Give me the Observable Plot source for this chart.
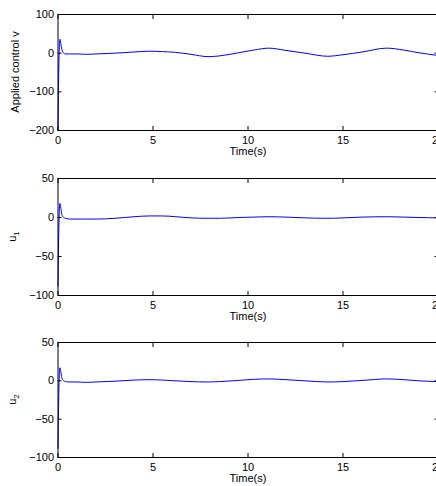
<!DOCTYPE html>
<html>
<head>
<meta charset="utf-8">
<script src="https://cdn.jsdelivr.net/npm/d3@7"></script>
<script src="https://cdn.jsdelivr.net/npm/@observablehq/plot@0.6"></script>
<style>
  html, body { margin: 0; padding: 0; background: #fff; }
  body { width: 436px; height: 486px; overflow: hidden; position: relative; }
  .panel { position: absolute; left: 0; width: 460px; }
  .panel svg { display: block; max-width: none !important; width: 460px; }
</style>
</head>
<body>
<div id="p1" class="panel"></div>
<div id="p2" class="panel"></div>
<div id="p3" class="panel"></div>
<script>
// Time samples (s)
const time = [0, 0.05, 0.1, 0.15, 0.2, 0.3, 0.4, 0.6, 1, 1.5, 2, 3, 4, 4.8, 5.5, 6.2, 7, 7.9, 8.5, 9.5, 10.3, 11.1, 12, 13, 14.2, 15, 16, 17.3, 18.2, 19, 20];
// Applied control v
const controlV = [-200, -20, 36, 25, 10, 0, -2, -2, -2, -3, -2, 0, 3, 5, 4, 2, -3, -9, -7, 1, 8, 13, 7, 0, -8, -4, 3, 13, 8, 1, -6];
// u1
const u1 = [-88, -8, 18, 12, 4, 0, -1, -2, -2, -2, -2, -1, 1, 2, 2, 1, -0.5, -1, -1, 0, 0.5, 1, 0.5, -0.5, -1, -0.5, 0.5, 1, 0.5, 0, -0.5];
// u2
const u2 = [-88, -8, 17, 12, 4, 0, -1, -1.5, -1.5, -2, -1.5, -0.5, 1, 1.5, 1, 0, -1, -1.5, -1, 0.5, 2, 2.5, 1.5, 0, -1.5, -1, 0.5, 2.5, 1.5, 0, -1];

const xTicks = [0, 5, 10, 15, 20];
const yTicks1 = [-200, -100, 0, 100];
const yTicks23 = [-100, -50, 0, 50];
const xLabel = "Time(s)";

const FONT = "'Liberation Sans', Arial, Helvetica, sans-serif";

function panel(el, top, innerH, values, yDomain, yTicks, labelMain, labelSub, labelX) {
  const data = time.map((t, i) => ({t, v: values[i]}));
  const mt = 10, mb = 30;
  const chart = Plot.plot({
    width: 460,
    height: mt + innerH + mb,
    marginLeft: 57.5,
    marginRight: 22.5,
    marginTop: mt,
    marginBottom: mb,
    style: {fontFamily: FONT, fontSize: "11px", background: "transparent", color: "#000", maxWidth: "none"},
    x: {domain: [0, 20]},
    y: {domain: yDomain},
    marks: [
      Plot.line(data, {x: "t", y: "v", stroke: "#0000ff", strokeWidth: 1, curve: "monotone-x"}),
      Plot.axisX({anchor: "bottom", ticks: xTicks, tickSize: -4, tickPadding: 9.5, label: null, fontSize: 11, fill: "#000"}),
      Plot.axisX({anchor: "top", ticks: xTicks, tickSize: -4, tickFormat: () => "", label: null}),
      Plot.axisY({anchor: "left", ticks: yTicks, tickSize: -4, tickPadding: 8, label: null, fontSize: 11, fill: "#000"}),
      Plot.axisY({anchor: "right", ticks: yTicks, tickSize: -4, tickFormat: () => "", label: null}),
      Plot.frame({stroke: "#000", strokeWidth: 1}),
      Plot.text([xLabel], {frameAnchor: "bottom", dy: 24, fontSize: 11, fill: "#000"})
    ]
  });
  const svg = d3.select(chart.tagName.toLowerCase() === "svg" ? chart : chart.querySelector("svg"));
  const cy = mt + innerH / 2;
  const t = svg.append("text")
    .attr("transform", `translate(${labelX},${cy}) rotate(-90)`)
    .attr("text-anchor", "middle")
    .attr("dy", "0.35em")
    .attr("font-family", FONT)
    .attr("font-size", 11)
    .attr("fill", "#000");
  t.append("tspan").text(labelMain);
  if (labelSub) {
    t.append("tspan").attr("dy", "0.35em").attr("font-size", 8).text(labelSub);
  }
  el.style.top = top + "px";
  el.appendChild(chart);
}

panel(document.getElementById("p1"), 4, 116, controlV, [-200, 100], yTicks1, "Applied control v", null, 15);
panel(document.getElementById("p2"), 168, 117, u1, [-100, 50], yTicks23, "u", "1", 12);
panel(document.getElementById("p3"), 332, 115, u2, [-100, 50], yTicks23, "u", "2", 12);
</script>
</body>
</html>
